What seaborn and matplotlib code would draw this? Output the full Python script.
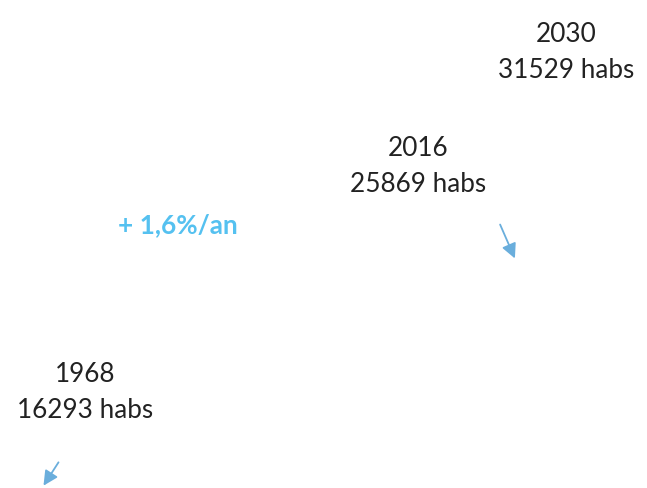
import matplotlib
matplotlib.use("Agg")
import matplotlib.pyplot as plt
import seaborn as sns

years = ["1968", "2016", "2030"]
population = [16293, 25869, 31529]
growth_label = "+ 1,6%/an"

sns.set_theme(style="white")
plt.rcParams["font.family"] = ["Lato", "DejaVu Sans"]

fig = plt.figure(figsize=(6.47, 4.88), dpi=100)
ax = fig.add_axes([0, 0, 1, 1])
ax.set_xlim(0, 647)
ax.set_ylim(488, 0)
ax.axis("off")

# label positions (pixels, layout only)
label_pos = [(85, 374), (418, 149), (566, 34)]
for yr, pop, (x, y) in zip(years, population, label_pos):
    ax.text(x, y, yr, ha="center", va="center", fontsize=18.8, color="#222222")
    ax.text(x, y + 36, f"{pop} habs", ha="center", va="center", fontsize=18.8, color="#222222")

ax.text(178, 225, growth_label, ha="center", va="center", fontsize=18.8,
        fontweight="bold", color="#55C1F0")

arrow_style = dict(arrowstyle="-|>", color="#6AAEDC", lw=1.3, mutation_scale=22)
ax.annotate("", xy=(42, 488), xytext=(60, 460), arrowprops=arrow_style,
            annotation_clip=False)
ax.annotate("", xy=(516, 261), xytext=(499, 222), arrowprops=arrow_style,
            annotation_clip=False)

fig.savefig("out.png", dpi=100, facecolor="white")
